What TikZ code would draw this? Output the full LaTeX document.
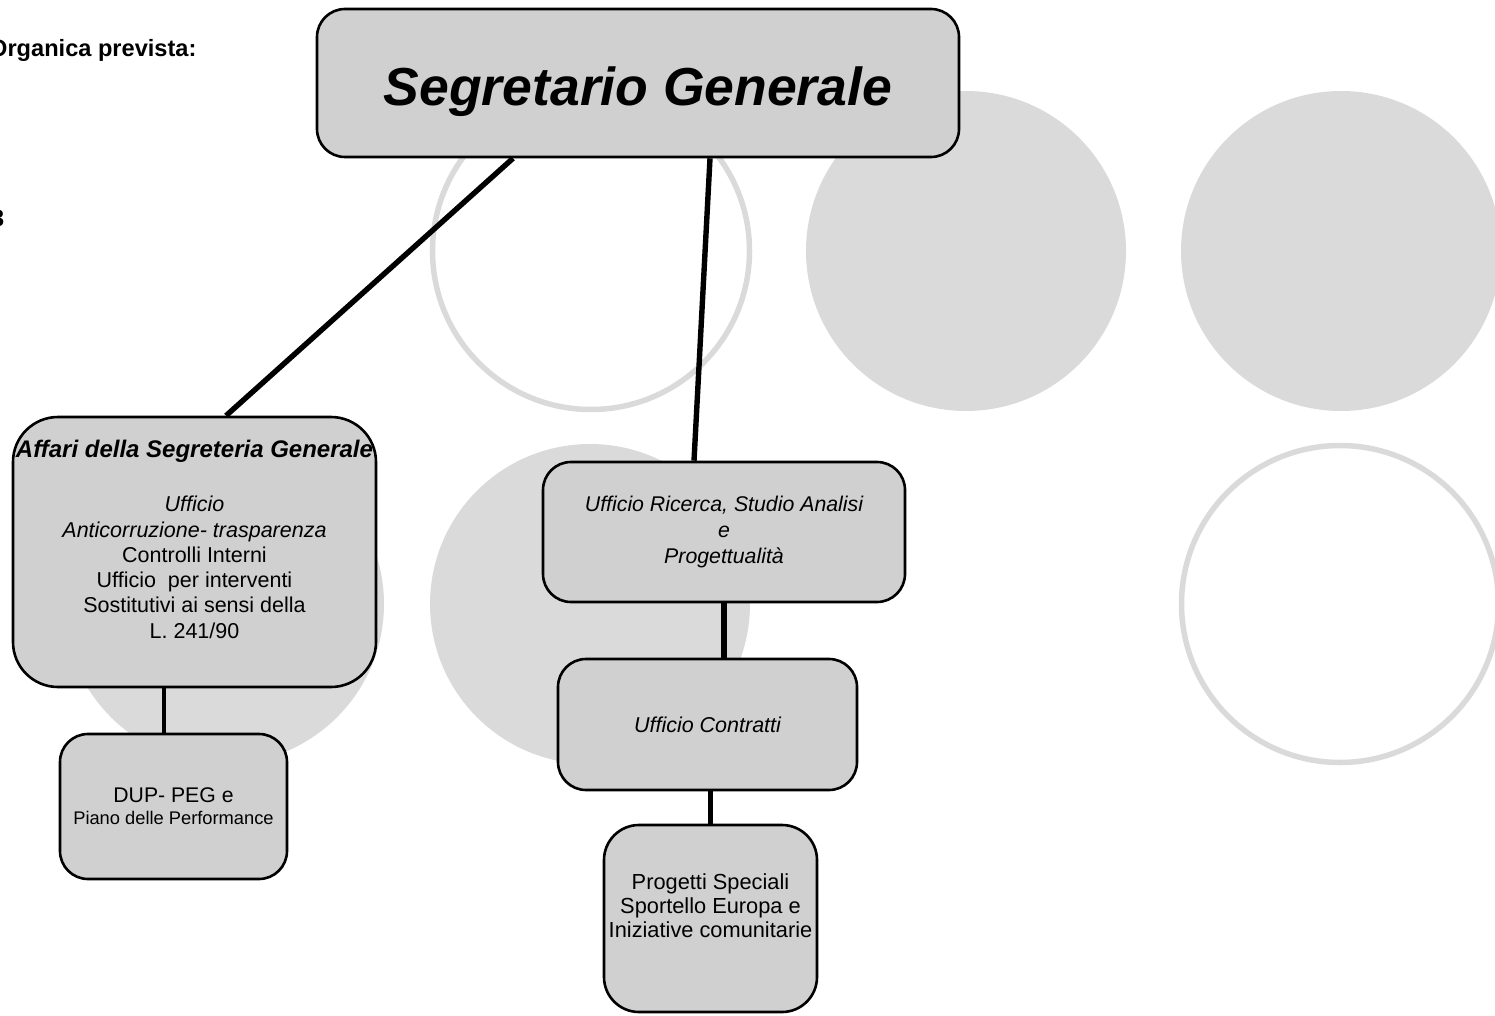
\documentclass[tikz,border=0pt]{standalone}
\usepackage{fontspec}
\setmainfont{Liberation Sans}
\usetikzlibrary{shapes}
\definecolor{boxgray}{RGB}{208,208,208}
\definecolor{circgray}{RGB}{218,218,218}
\tikzstyle{block} = [rectangle, draw, line width=2.6pt, fill=boxgray, text centered, align=center, rounded corners=28pt, inner sep=0pt, font=\fontsize{21.5}{25.3}\selectfont]
\tikzstyle{line} = [draw, line width=5.4pt]
\tikzstyle{disc} = [circle, fill=circgray, minimum size=320pt, inner sep=0pt]
\tikzstyle{ring} = [circle, draw=circgray, line width=5.5pt, minimum size=317pt, inner sep=0pt]
\tikzstyle{note} = [anchor=base west, inner sep=0pt, font=\fontsize{23.6}{26}\selectfont\bfseries]

\begin{document}
\begin{tikzpicture}[x=1pt, y=-1pt]
		\useasboundingbox (0,0) rectangle (1495,1016);

		% background circles
		\node [ring] (ring-a) at (591,251) {};
		\node [disc] (disc-a) at (966,251) {};
		\node [disc] (disc-b) at (1341,251) {};
		\node [disc] (disc-c) at (224,604) {};
		\node [disc] (disc-d) at (590,604) {};
		\node [ring] (ring-b) at (1340,604) {};

		\node [note] (organica) at (-11,57) {Organica prevista:};
		\node [note] (count) at (-9,227) {3};

		\node [block, minimum width=642pt, minimum height=148pt, font=\fontsize{53.5}{60}\selectfont\bfseries\itshape] (segretario) at (638,83) {\rule{0pt}{57pt}Segretario Generale};
		\node [block, minimum width=363pt, minimum height=270pt, rounded corners=45pt] (affari) at (194.5,552)
			{{\fontsize{24}{26}\selectfont\bfseries\itshape Affari della Segreteria Generale}\\[28.7pt]
			\textit{Ufficio}\\ \textit{Anticorruzione- trasparenza}\\ Controlli Interni\\ Ufficio\ \ per interventi\\
			Sostitutivi ai sensi della\\ L. 241/90\rule[-25.5pt]{0pt}{25.5pt}};
		\node [block, minimum width=227pt, minimum height=145pt, font=\fontsize{21.2}{22}\selectfont] (dup) at (173.5,806.5)
			{DUP- PEG e\\ {\fontsize{18.3}{22}\selectfont Piano delle Performance}};
		\node [block, minimum width=362pt, minimum height=140pt, font=\fontsize{21.3}{26}\selectfont\itshape] (ricerca) at (724,532)
			{Ufficio Ricerca, Studio Analisi\\ e\\ Progettualità};
		\node [block, minimum width=299pt, minimum height=131pt, font=\fontsize{21.5}{25}\selectfont\itshape] (contratti) at (707.5,724.5) {Ufficio Contratti};
		\node [block, minimum width=213pt, minimum height=187pt, rounded corners=35pt, font=\fontsize{21.8}{24}\selectfont] (progetti) at (710.5,918.5)
			{Progetti Speciali\\ Sportello Europa e\\ Iniziative comunitarie\rule[-25pt]{0pt}{25pt}};

		\path [line] ([xshift=-125pt]segretario.south) -- ([xshift=31.5pt]affari.north);
		\path [line] ([xshift=72pt]segretario.south) -- ([xshift=-30pt]ricerca.north);
		\path [line, line width=3.6pt] ([xshift=-30.5pt]affari.south) -- ([xshift=-30.5pt]affari.south |- dup.north);
		\path [line] (ricerca.south) -- (ricerca.south |- contratti.north);
		\path [line, line width=4.4pt] (progetti.north |- contratti.south) -- (progetti.north);
	\end{tikzpicture}
\end{document}
